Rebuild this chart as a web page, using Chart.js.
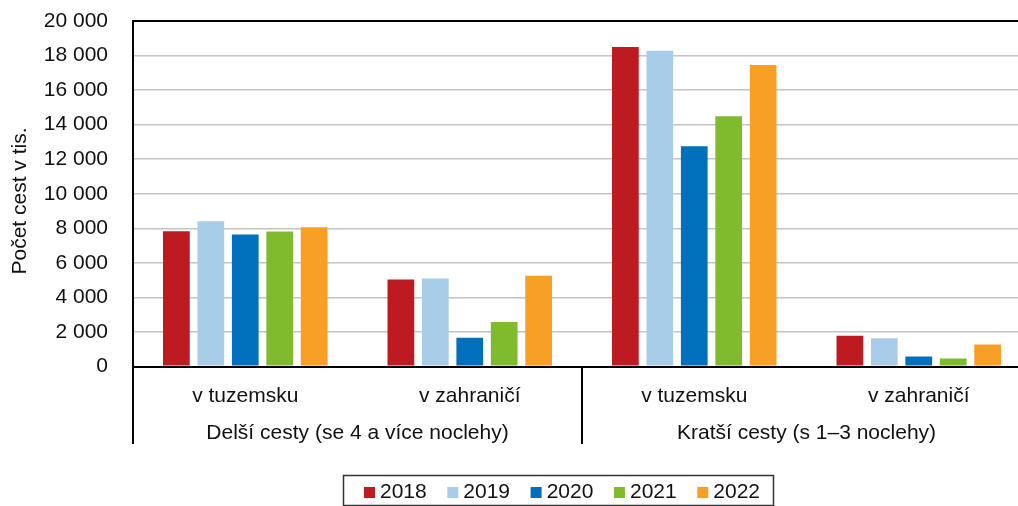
<!DOCTYPE html>
<html>
<head>
<meta charset="utf-8">
<script src="https://cdn.jsdelivr.net/npm/chart.js@4/dist/chart.umd.min.js"></script>
<style>
  html, body { margin: 0; padding: 0; background: #fff; overflow: hidden; }
  #wrap { width: 1031px; height: 506px; position: relative; }
</style>
</head>
<body>
<div id="wrap"><canvas id="c" width="1031" height="506"></canvas></div>
<script>
const categories = ['v tuzemsku', 'v zahraničí', 'v tuzemsku', 'v zahraničí'];
const groupLabels = ['Delší cesty (se 4 a více noclehy)', 'Kratší cesty (s 1–3 noclehy)'];
const seriesNames = ['2018', '2019', '2020', '2021', '2022'];
const y2018 = [7830, 5040, 18490, 1780];
const y2019 = [8410, 5090, 18280, 1640];
const y2020 = [7640, 1660, 12750, 580];
const y2021 = [7810, 2570, 14480, 460];
const y2022 = [8060, 5250, 17450, 1280];
const yTitle = 'Počet cest v tis.';

const colors = ['#BE1A21', '#A8CDE8', '#0070BC', '#80BB2E', '#F8A026'];
const FONT = '"Liberation Sans", Arial, Helvetica, sans-serif';
const values = [y2018, y2019, y2020, y2021, y2022];

function fmt(v) { return String(v).replace(/\B(?=(\d{3})+(?!\d))/g, ' '); }

const extras = {
  id: 'extras',
  afterDraw(chart) {
    const ctx = chart.ctx;
    const x = chart.scales.x;
    const area = chart.chartArea;
    ctx.save();
    ctx.fillStyle = '#111';
    ctx.font = '21px ' + FONT;
    ctx.textAlign = 'center';
    ctx.textBaseline = 'middle';
    ctx.translate(20, 201);
    ctx.rotate(-Math.PI / 2);
    ctx.fillText(yTitle, 0, 0);
    ctx.restore();

    ctx.save();
    const p1 = x.getPixelForTick(1), p2 = x.getPixelForTick(2);
    const mid = (p1 + p2) / 2;
    const seps = [x.left, mid, x.right];
    ctx.strokeStyle = '#000';
    ctx.lineWidth = 2;
    seps.forEach(sx => {
      ctx.beginPath();
      ctx.moveTo(sx, area.bottom);
      ctx.lineTo(sx, 444);
      ctx.stroke();
    });
    ctx.fillStyle = '#111';
    ctx.font = '21px ' + FONT;
    ctx.textAlign = 'center';
    ctx.textBaseline = 'alphabetic';
    ctx.fillText(groupLabels[0], (x.left + mid) / 2, 439);
    ctx.fillText(groupLabels[1], (mid + x.right) / 2, 439);
    ctx.restore();

    ctx.save();
    ctx.strokeStyle = '#333';
    ctx.lineWidth = 1.5;
    ctx.strokeRect(343.5, 475.5, 430, 30);
    ctx.font = '21px ' + FONT;
    ctx.textBaseline = 'alphabetic';
    ctx.textAlign = 'left';
    let lx = 364;
    chart.data.datasets.forEach(ds => {
      ctx.fillStyle = ds.backgroundColor;
      ctx.fillRect(lx, 487, 11, 11);
      ctx.fillStyle = '#111';
      ctx.fillText(ds.label, lx + 16, 498);
      lx += 16 + ctx.measureText(ds.label).width + 20.6;
    });
    ctx.restore();
  }
};

new Chart(document.getElementById('c'), {
  type: 'bar',
  data: {
    labels: categories,
    datasets: seriesNames.map((n, i) => ({
      label: n,
      data: values[i],
      backgroundColor: colors[i],
      borderWidth: 0,
      categoryPercentage: 0.767,
      barPercentage: 0.776
    }))
  },
  options: {
    responsive: false,
    animation: false,
    devicePixelRatio: 1,
    layout: { padding: { top: 21, right: 0, bottom: 0, left: 0 } },
    plugins: { legend: { display: false }, tooltip: { enabled: false }, title: { display: false } },
    scales: {
      x: {
        afterFit(s) { s.height = 139.5; s.paddingLeft = 0; s.paddingRight = 0; },
        grid: { display: false, drawTicks: false },
        border: { display: true, color: '#000', width: 2 },
        ticks: { color: '#111', font: { family: FONT, size: 21 }, padding: 17, maxRotation: 0, autoSkip: false }
      },
      y: {
        min: 0, max: 20000,
        afterFit(s) { s.width = 133; s.paddingTop = 0; s.paddingBottom = 0; },
        grid: {
          drawTicks: false,
          color: c => (c.tick.value === 20000 || c.tick.value === 0) ? '#000' : '#c4c4c4',
          lineWidth: c => (c.tick.value === 20000 || c.tick.value === 0) ? 2 : 1.5
        },
        border: { display: true, color: '#000', width: 2 },
        ticks: {
          stepSize: 2000,
          color: '#111',
          padding: 25,
          font: { family: FONT, size: 21 },
          callback: v => fmt(v)
        }
      }
    }
  },
  plugins: [extras]
});
</script>
</body>
</html>
